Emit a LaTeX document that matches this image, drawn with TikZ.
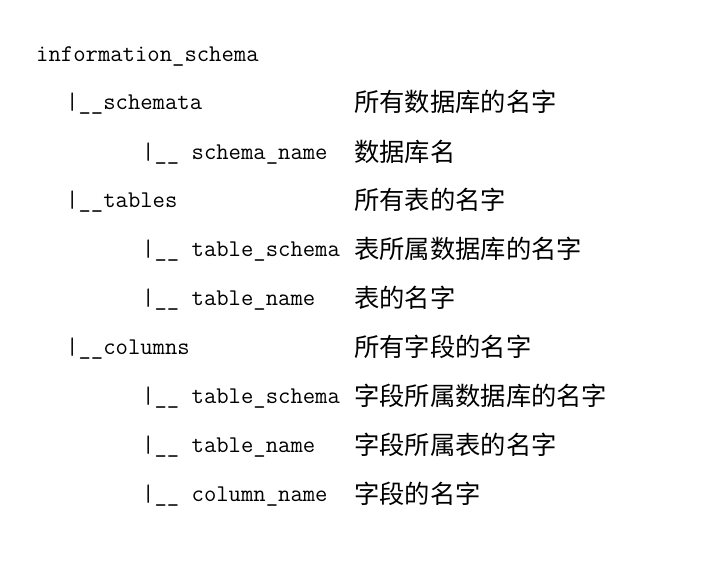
\documentclass[tikz,border=0pt]{standalone}
\usepackage{fontspec}
\newfontfamily\cjk{Noto Sans CJK SC}
\tikzset{
  code/.style={inner sep=0pt, anchor=base west, font=\ttfamily\fontsize{24pt}{25pt}\selectfont},
  desc/.style={inner sep=0pt, anchor=base west, yshift=-2pt, font=\cjk\fontsize{25.3pt}{26pt}\selectfont},
}
\begin{document}
\begin{tikzpicture}[x=1pt,y=1pt]
\useasboundingbox[fill=white] (0,0) rectangle (701,-575);
\node[code] (root) at (36,-62) {information\_schema};
\node[code] (schemata) at (66,-110) {|\_\_schemata};
\node[desc] (schematad) at (354,-110) {所有数据库的名字};
\node[code] (sname) at (142,-159) {|\_\_ schema\_name};
\node[desc] (snamed) at (354,-159) {数据库名};
\node[code] (tables) at (66,-207) {|\_\_tables};
\node[desc] (tablesd) at (354,-207) {所有表的名字};
\node[code] (tschema) at (142,-256) {|\_\_ table\_schema};
\node[desc] (tschemad) at (354,-256) {表所属数据库的名字};
\node[code] (tname) at (142,-305) {|\_\_ table\_name};
\node[desc] (tnamed) at (354,-305) {表的名字};
\node[code] (columns) at (66,-354) {|\_\_columns};
\node[desc] (columnsd) at (354,-354) {所有字段的名字};
\node[code] (ctschema) at (142,-403) {|\_\_ table\_schema};
\node[desc] (ctschemad) at (354,-403) {字段所属数据库的名字};
\node[code] (ctname) at (142,-452) {|\_\_ table\_name};
\node[desc] (ctnamed) at (354,-452) {字段所属表的名字};
\node[code] (cname) at (142,-501) {|\_\_ column\_name};
\node[desc] (cnamed) at (354,-501) {字段的名字};
\end{tikzpicture}
\end{document}
